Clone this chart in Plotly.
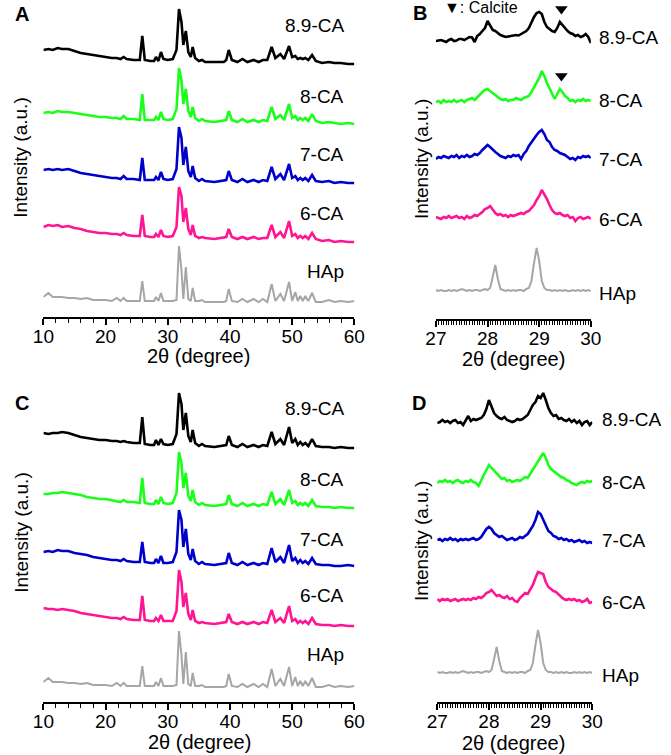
import plotly.graph_objects as go

W, H = 671, 755
FONT = "Arial, Liberation Sans, sans-serif"

# -- Data --
SAMPLES = ["8.9-CA", "8-CA", "7-CA", "6-CA", "HAp"]
COLORS = ["#000000", "#1aff1a", "#0000cc", "#ff1493", "#a6a6a6"]
CALCITE_X = [29.43]

# wide scans, 10-60 deg (panels A and C)
X_WIDE = [10.0, 10.8, 11.5, 12.3, 13.0, 14.0, 15.0, 16.0, 17.0, 18.0,
          19.0, 20.0, 21.0, 21.8, 22.4, 22.9, 23.4, 24.5, 25.5, 25.9,
          26.3, 27.2, 27.8, 28.1, 28.5, 28.9, 29.3, 30.0, 30.8, 31.4,
          31.8, 32.2, 32.5, 32.9, 33.3, 33.7, 34.0, 34.4, 35.0, 35.5,
          36.0, 37.5, 39.0, 39.4, 39.8, 40.3, 41.2, 42.0, 42.8, 43.8,
          44.6, 45.3, 46.0, 46.7, 47.3, 48.1, 48.7, 49.5, 50.0, 50.5,
          50.9, 51.3, 51.7, 52.1, 52.6, 53.2, 53.8, 54.8, 55.9, 56.8,
          57.8, 59.0, 60.0]

A_89 = [14, 15, 14, 16, 15, 15, 13, 11, 10, 9,
        8, 7, 6, 6, 5, 7, 5, 4, 4, 28,
        4, 3, 3, 7, 3, 12, 5, 4, 5, 14,
        55, 42, 19, 33, 12, 7, 17, 6, 3, 4,
        2, 2, 2, 4, 14, 4, 2, 5, 2, 4,
        2, 4, 4, 17, 6, 10, 5, 18, 7, 8,
        5, 6, 5, 6, 4, 9, 3, 1, 2, 1,
        1, 0, 0]
A_8 = [11, 12, 11, 13, 12, 12, 11, 10, 9, 8,
       7, 7, 6, 6, 5, 8, 5, 5, 4, 30,
       4, 4, 4, 7, 4, 12, 5, 4, 5, 15,
       56, 44, 20, 35, 13, 7, 17, 6, 3, 5,
       3, 2, 3, 4, 13, 4, 2, 5, 2, 4,
       2, 4, 3, 17, 5, 9, 4, 20, 6, 8,
       4, 6, 4, 6, 3, 10, 3, 1, 2, 1,
       0, 1, 0]
A_7 = [13, 14, 13, 14, 13, 14, 12, 10, 9, 8,
       7, 6, 5, 5, 4, 7, 4, 4, 3, 25,
       3, 3, 3, 6, 3, 11, 4, 3, 4, 14,
       56, 45, 18, 36, 12, 6, 17, 5, 2, 4,
       2, 1, 2, 3, 12, 3, 1, 4, 1, 3,
       1, 3, 2, 16, 4, 9, 3, 19, 5, 7,
       3, 5, 3, 5, 2, 8, 2, 1, 2, 0,
       1, 0, 0]
A_6 = [15, 17, 16, 17, 15, 16, 14, 13, 11, 10,
       9, 9, 8, 8, 7, 9, 7, 6, 6, 27,
       6, 5, 5, 8, 5, 12, 6, 5, 6, 15,
       55, 46, 20, 34, 13, 7, 17, 6, 4, 5,
       4, 3, 4, 5, 13, 5, 3, 5, 3, 5,
       3, 4, 4, 17, 5, 10, 4, 21, 6, 8,
       4, 6, 4, 6, 3, 9, 3, 1, 2, 0,
       1, 0, 0]
HAP_WIDE = [5, 9, 5, 5, 5, 4, 4, 3, 4, 2,
            2, 2, 1, 4, 1, 4, 1, 1, 1, 21,
            1, 1, 1, 5, 1, 9, 1, 1, 1, 2,
            56, 32, 3, 35, 3, 1, 14, 1, 1, 2,
            0, 0, 0, 1, 13, 1, 0, 3, 0, 3,
            0, 3, 0, 18, 1, 8, 1, 20, 1, 10,
            1, 6, 1, 6, 1, 9, 0, 0, 2, 0,
            1, 0, 1]

C_89 = [15, 14, 15, 15, 16, 15, 13, 11, 10, 9,
        8, 8, 7, 7, 6, 7, 6, 5, 5, 31,
        4, 3, 3, 8, 3, 9, 4, 3, 4, 14,
        55, 44, 18, 35, 12, 6, 18, 5, 2, 4,
        2, 1, 2, 3, 12, 3, 1, 4, 1, 3,
        1, 3, 2, 16, 4, 9, 3, 21, 5, 9,
        3, 6, 3, 5, 2, 9, 2, 1, 1, 0,
        1, 0, 0]
C_8 = [14, 14, 15, 15, 16, 15, 14, 13, 11, 10,
       9, 9, 8, 7, 6, 8, 6, 6, 5, 30,
       5, 4, 4, 8, 4, 11, 5, 4, 5, 15,
       56, 45, 20, 35, 12, 7, 18, 6, 3, 5,
       3, 2, 3, 4, 13, 4, 2, 5, 2, 4,
       2, 4, 3, 16, 4, 9, 3, 18, 5, 7,
       3, 5, 3, 5, 2, 8, 2, 1, 1, 0,
       1, 0, 0]
C_7 = [14, 15, 14, 16, 15, 15, 13, 12, 11, 9,
       8, 7, 6, 6, 5, 7, 5, 4, 4, 24,
       4, 3, 3, 7, 3, 10, 3, 3, 4, 14,
       56, 46, 19, 37, 12, 6, 17, 5, 2, 4,
       2, 1, 2, 3, 13, 3, 1, 4, 1, 3,
       1, 3, 2, 18, 4, 9, 3, 21, 5, 8,
       3, 6, 3, 5, 2, 8, 2, 1, 1, 0,
       0, 1, 0]
C_6 = [18, 17, 17, 16, 17, 16, 15, 13, 12, 11,
       10, 9, 8, 8, 7, 9, 7, 6, 6, 30,
       6, 5, 5, 8, 5, 11, 5, 5, 5, 15,
       56, 44, 19, 33, 12, 6, 16, 5, 3, 4,
       3, 2, 3, 4, 12, 4, 2, 4, 2, 4,
       2, 4, 3, 16, 4, 8, 3, 20, 5, 7,
       3, 5, 3, 5, 2, 8, 2, 1, 1, 0,
       1, 0, 0]

# narrow scans, 27-30 deg (panels B and D)
X_NARROW = [27.00, 27.05, 27.10, 27.15, 27.20, 27.25, 27.30, 27.35, 27.40, 27.45,
            27.50, 27.55, 27.60, 27.65, 27.70, 27.75, 27.80, 27.85, 27.90, 27.95,
            28.00, 28.05, 28.10, 28.15, 28.20, 28.25, 28.30, 28.35, 28.40, 28.45,
            28.50, 28.55, 28.60, 28.65, 28.70, 28.75, 28.80, 28.85, 28.90, 28.95,
            29.00, 29.05, 29.10, 29.15, 29.20, 29.25, 29.30, 29.35, 29.40, 29.45,
            29.50, 29.55, 29.60, 29.65, 29.70, 29.75, 29.80, 29.85, 29.90, 29.95,
            30.00]

B_89 = [1, 1.5, 2, 1, 0, 2, 3, 1, 1.5, 3,
        3, 2, 3.5, 5, 4.5, 0, 6, 8, 11, 14,
        21, 17, 12, 11, 9, 7, 6, 5, 5.5, 6,
        6, 7, 6.5, 8, 9, 11, 14, 20, 25, 29,
        30, 28, 20, 15, 13, 11, 10, 14, 20, 17,
        13, 11, 9, 8, 6, 7, 5, 6, 8, 5,
        -1]
B_8 = [0, 1, -1, 2, 0, 1, 0, 2, 0, 1,
       2, 0, 2, 3, 4, 2, 5, 8, 10, 12,
       13, 11, 9, 7, 5, 3, 2, 3, 1, 2,
       2, 4, 3, 2, 4, 5, 6, 10, 15, 19,
       24, 31, 26, 19, 14, 9, 3, 8, 13, 10,
       6, 4, 1, 2, 0, 2, 1, 3, 1, 2,
       1]
B_7 = [-1, 1, 0, 2, 1, 0, 2, 1, 3, 0,
       2, 1, 3, 1, 2, 4, 3, 5, 8, 11,
       13, 11, 8, 6, 4, 2, 1, 0, 2, 1,
       3, 2, 3, -1, 4, 7, 12, 16, 19, 23,
       26, 28, 24, 18, 16, 11, 8, 7, 5, 4,
       3, 1, -1, 0, -2, 1, 0, 2, 1, 2,
       0]
B_6 = [1, 0, -1, 1, 0, 2, 0, 1, 2, 0,
       1, -1, 2, 0, 1, 3, 2, 4, 6, 9,
       10, 12, 8, 5, 3, 4, 2, 3, 1, 3,
       2, 3, 4, 5, 4, 6, 7, 10, 13, 18,
       22, 28, 24, 19, 13, 8, 5, 4, 5, 3,
       2, 3, 0, 1, -3, 0, 1, -1, 0, 1,
       -1]
HAP_NARROW = [1, 0, 1, 0, 0, 1, 0, 1, 0, 1,
              2, 1, 0, 1, 0, 1, 1, 0, 1, 2,
              1, 3, 14, 26, 12, 2, 1, 0, 1, 0,
              1, 0, 1, 1, 0, 2, 3, 10, 28, 43,
              30, 10, 3, 1, 1, 0, 1, 0, 1, 0,
              1, 0, 0, 1, 0, 1, 0, 1, 0, 1,
              0]

D_89 = [-1, 0, 2, 0, 1, -1, 1, 2, -1, 0,
        -3, 1, 6, 1, 3, 2, 3, 4, 7, 13,
        22, 16, 9, 6, 4, 3, 5, 2, 1, 0,
        1, 3, 2, 3, 5, 7, 12, 17, 20, 26,
        24, 29, 22, 14, 9, 6, 7, 3, 4, 2,
        1, 3, 0, 2, -1, 1, -3, 0, 1, -3,
        0]
D_8 = [0, 2, 1, 3, 1, 2, 0, 2, 3, 1,
       0, 2, 1, 3, 1, 0, -3, 3, 8, 13,
       18, 15, 12, 9, 7, 4, 5, 2, 3, 1,
       2, 3, 2, 4, 6, 5, 9, 13, 17, 22,
       26, 30, 25, 18, 14, 12, 10, 8, 6, 5,
       3, 2, 0, -1, -2, 0, 1, 0, 2, 1,
       2]
D_7 = [0, 1, -1, 1, 0, 2, 0, 1, -1, 1,
       0, 1, 0, 1, 2, 0, 1, 3, 7, 11,
       13, 11, 7, 5, 3, 4, 2, 0, 1, 2,
       0, 1, 3, 2, 4, 6, 10, 14, 20, 28,
       26, 20, 14, 9, 7, 4, 3, 1, 2, 0,
       1, -1, 0, -2, -1, 0, -2, -1, -3, -2,
       -3]
D_6 = [1, -1, 1, 0, 1, -1, 0, 1, -1, 0,
       1, 0, 1, 0, 2, 1, 3, 2, 4, 7,
       8, 10, 7, 4, 5, 3, 2, 4, 1, 2,
       -1, -2, 2, 5, 7, 6, 11, 15, 22, 28,
       27, 26, 18, 13, 11, 9, 8, 5, 3, 1,
       0, 1, 0, 1, -1, 0, -2, -1, 1, -3,
       -2]

# vertical stacking offsets (same order as SAMPLES)
OFFSETS_A = [253, 193, 134, 75, 15]
OFFSETS_B = [277, 217, 161, 101, 28]
OFFSETS_C = [254, 194, 136, 76, 15]
OFFSETS_D = [280, 219, 162, 102, 29]


def px(x):
   return x / W

def py(y):
   return 1 - y / H

def note(text, x, y, xanchor="center", **kw):
   """Text placed at a pixel position of the page (paper coordinates)"""
   return dict(text=text, x=px(x), y=py(y), xref="paper", yref="paper",
               xanchor=xanchor, yanchor="middle", showarrow=False, **kw)


# -- Panel setup (pixel boxes of the reference) --
panels = [
   dict(letter="A", ax="", x=X_WIDE, series=[A_89, A_8, A_7, A_6, HAP_WIDE], offsets=OFFSETS_A,
        xbox=(33.5, 355), ybox=(317, 5), xr=[10, 60], dtick=10, minor=2, letter_pos=(11, 14),
        ytitle=(10, 158), xtitle=(194, 356), label_x=346, label_side="right",
        label_y=[25.5, 97, 154, 213, 272], calcite=False),
   dict(letter="B", ax="2", x=X_NARROW, series=[B_89, B_8, B_7, B_6, HAP_NARROW], offsets=OFFSETS_B,
        xbox=(439.3, 599.5), ybox=(319, 5), xr=[27, 30], dtick=1, minor=0.05, letter_pos=(423, 13),
        ytitle=(424, 159), xtitle=(520, 359), label_x=606, label_side="left",
        label_y=[37, 100, 159, 220, 293], calcite=True),
   dict(letter="C", ax="3", x=X_WIDE, series=[C_89, C_8, C_7, C_6, HAP_WIDE], offsets=OFFSETS_C,
        xbox=(33.5, 355), ybox=(702, 388), xr=[10, 60], dtick=10, minor=2, letter_pos=(11, 403),
        ytitle=(10, 533), xtitle=(195, 742), label_x=346, label_side="right",
        label_y=[409, 479, 539, 595, 654], calcite=False),
   dict(letter="D", ax="4", x=X_NARROW, series=[D_89, D_8, D_7, D_6, HAP_NARROW], offsets=OFFSETS_D,
        xbox=(440.7, 601), ybox=(702, 388), xr=[27, 30], dtick=1, minor=0.05, letter_pos=(422, 403),
        ytitle=(424, 541), xtitle=(520, 743), label_x=609, label_side="left",
        label_y=[420, 482, 540, 602, 675], calcite=False),
]

fig = go.Figure()
layout = dict(
   width=W, height=H,
   margin=dict(l=0, r=0, t=0, b=0),
   paper_bgcolor="white", plot_bgcolor="white",
   showlegend=False,
   font=dict(family=FONT, size=19, color="black"),
)
annotations = []

for p in panels:
   xa = "x" + p["ax"]
   ya = "y" + p["ax"]
   for name, vals, off, col in zip(SAMPLES, p["series"], p["offsets"], COLORS):
      fig.add_trace(go.Scatter(
         x=p["x"], y=[v + off for v in vals], mode="lines", name=name,
         line=dict(color=col, width=2.0 if name == "HAp" else 2.6),
         xaxis=xa, yaxis=ya, hoverinfo="skip"))

   # calcite markers above 8.9-CA and 8-CA
   if p["calcite"]:
      for vals, off in zip(p["series"][:2], p["offsets"][:2]):
         peak = max(v for xv, v in zip(p["x"], vals) if abs(xv - CALCITE_X[0]) < 0.06)
         fig.add_trace(go.Scatter(
            x=CALCITE_X, y=[off + peak + 13], mode="markers",
            marker=dict(symbol="triangle-down", size=11, color="black"),
            xaxis=xa, yaxis=ya, hoverinfo="skip"))
      annotations.append(note("▼: Calcite", 486, 8, font=dict(size=16)))

   y0, y1 = p["ybox"]
   layout["xaxis" + p["ax"]] = dict(
      domain=[px(p["xbox"][0]), px(p["xbox"][1])], range=p["xr"], anchor=ya,
      showline=True, linecolor="black", linewidth=2, mirror=False,
      ticks="outside", ticklen=6, tickwidth=2, tickcolor="black", dtick=p["dtick"],
      tickfont=dict(size=19), ticklabelstandoff=-5, showgrid=False, zeroline=False,
      minor=dict(dtick=p["minor"], ticks="outside", ticklen=4, tickwidth=1.2, tickcolor="black"),
   )
   layout["yaxis" + p["ax"]] = dict(
      domain=[py(y0), py(y1)], range=[0, y0 - y1], anchor=xa, visible=False,
   )

   # panel letter, axis titles, sample labels
   annotations.append(note("<b>%s</b>" % p["letter"], *p["letter_pos"], font=dict(size=20)))
   annotations.append(note("Intensity (a.u.)", *p["ytitle"], textangle=-90))
   annotations.append(note("2θ (degree)", *p["xtitle"], font=dict(size=20)))
   for name, ly in zip(SAMPLES, p["label_y"]):
      annotations.append(note(name, p["label_x"], ly, xanchor=p["label_side"]))

layout["annotations"] = annotations
fig.update_layout(**layout)

# page body has a default 8px margin; drop it so the figure fills the window
fig.write_html("out.html", config={"displayModeBar": False},
               post_script="document.body.style.margin = '0';")
